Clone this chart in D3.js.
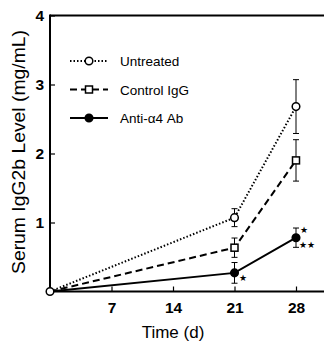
<!DOCTYPE html>
<html><head><meta charset="utf-8">
<script src="https://cdn.jsdelivr.net/npm/d3@7"></script>
<style>body{margin:0;background:#fff}svg{display:block}text{font-family:Arial,"Liberation Sans",sans-serif;fill:#000}</style>
</head><body>
<svg id="c" width="324" height="342"></svg>
<script>
const days = [0, 21, 28];
const untreated = [0, 1.07, 2.68];
const untreatedErr = [0, 0.13, 0.39];
const controlIgG = [0, 0.635, 1.9];
const controlErr = [0, 0.14, 0.3];
const antiA4 = [0, 0.27, 0.78];
const antiErr = [0, 0.15, 0.14];
const xTicks = [7, 14, 21, 28];
const yTicks = [1, 2, 3, 4];
const legendLabels = ["Untreated", "Control IgG", "Anti-\u03B14 Ab"];

const svg = d3.select("#c");
const x = d3.scaleLinear().domain([0, 28]).range([50, 296]);
const y = d3.scaleLinear().domain([0, 4]).range([291.5, 15.5]);

// frame
svg.append("line").attr("x1",50).attr("x2",324).attr("y1",y(4)).attr("y2",y(4)).attr("stroke","#000").attr("stroke-width",2);
svg.append("line").attr("x1",50).attr("x2",50).attr("y1",y(4)-1).attr("y2",y(0)).attr("stroke","#000").attr("stroke-width",2);
svg.append("line").attr("x1",50).attr("x2",324).attr("y1",y(0)).attr("y2",y(0)).attr("stroke","#000").attr("stroke-width",2);

// ticks
const xAxis = svg.append("g").attr("transform",`translate(0,${y(0)})`)
  .call(d3.axisBottom(x).tickValues(xTicks).tickFormat(d3.format("d")).tickSizeInner(-5).tickSizeOuter(0).tickPadding(10));
xAxis.select(".domain").remove();
xAxis.selectAll("line").attr("stroke-width",1.2);
xAxis.selectAll("text").attr("font-size",15.5).attr("font-weight","bold").attr("fill","#000").attr("font-family","Arial, 'Liberation Sans', sans-serif");
const yAxis = svg.append("g").attr("transform",`translate(50,0)`)
  .call(d3.axisLeft(y).tickValues(yTicks).tickFormat(d3.format("d")).tickSizeInner(-5).tickSizeOuter(0).tickPadding(6));
yAxis.select(".domain").remove();
yAxis.selectAll("line").attr("stroke-width",1.2);
yAxis.selectAll("text").attr("font-size",15.5).attr("font-weight","bold").attr("fill","#000").attr("font-family","Arial, 'Liberation Sans', sans-serif");

// labels
svg.append("text").attr("x",173).attr("y",338).attr("text-anchor","middle").attr("font-size",17).text("Time (d)");
svg.append("text").attr("transform","translate(25,152) rotate(-90)").attr("text-anchor","middle").attr("font-size",18)
  .attr("textLength",244).attr("lengthAdjust","spacingAndGlyphs").text("Serum IgG2b Level (mg/mL)");

const series = [
  {v: untreated, e: untreatedErr, dash: "1.5,2", marker: "circle", fill: "#fff"},
  {v: controlIgG, e: controlErr, dash: "7,4", marker: "square", fill: "#fff"},
  {v: antiA4, e: antiErr, dash: null, marker: "circle", fill: "#000"}
];
const line = d3.line().x((d,i)=>x(days[i])).y(d=>y(d));

function marker(g, m, cx, cy, fill){
  if (m === "circle") g.append("circle").attr("cx",cx).attr("cy",cy).attr("r",3.8).attr("fill",fill).attr("stroke","#000").attr("stroke-width",1.5);
  else g.append("rect").attr("x",cx-3.5).attr("y",cy-3.5).attr("width",7).attr("height",7).attr("fill",fill).attr("stroke","#000").attr("stroke-width",1.5);
}

series.forEach(s => {
  const p = svg.append("path").datum(s.v).attr("d",line).attr("fill","none").attr("stroke","#000").attr("stroke-width",2);
  if (s.dash) p.attr("stroke-dasharray", s.dash);
  s.v.forEach((v,i) => {
    if (i === 0) return;
    const cx = x(days[i]);
    [v + s.e[i], v - s.e[i]].forEach(ev => {
      svg.append("line").attr("x1",cx).attr("x2",cx).attr("y1",y(v)).attr("y2",y(ev)).attr("stroke","#000").attr("stroke-width",1);
      svg.append("line").attr("x1",cx-3).attr("x2",cx+3).attr("y1",y(ev)).attr("y2",y(ev)).attr("stroke","#000").attr("stroke-width",1);
    });
  });
});
series.forEach(s => {
  s.v.forEach((v,i) => { if (i>0) marker(svg, s.marker, x(days[i]), y(v), s.fill); });
});
marker(svg, "circle", x(0), y(0), "#fff");

// significance stars
const stars = [[21, antiA4[1], "\u2605", 4, 8], [28, antiA4[2], "\u2605", 4, -5], [28, antiA4[2], "\u2605\u2605", 3, 10]];
stars.forEach(([d, v, t, dx, dy]) => {
  svg.append("text").attr("x", x(d)+dx).attr("y", y(v)+dy).attr("font-size",9).attr("font-family","DejaVu Sans").text(t);
});

// legend
legendLabels.forEach((lab, i) => {
  const ly = 61 + i*28.5, s = series[i];
  const l = svg.append("line").attr("x1",70).attr("x2",108).attr("y1",ly).attr("y2",ly).attr("stroke","#000").attr("stroke-width",2);
  if (s.dash) l.attr("stroke-dasharray", s.dash);
  marker(svg, s.marker, 89, ly, s.fill);
  svg.append("text").attr("x",120).attr("y",ly+5).attr("font-size",13.5).text(lab);
});
</script>
</body></html>
